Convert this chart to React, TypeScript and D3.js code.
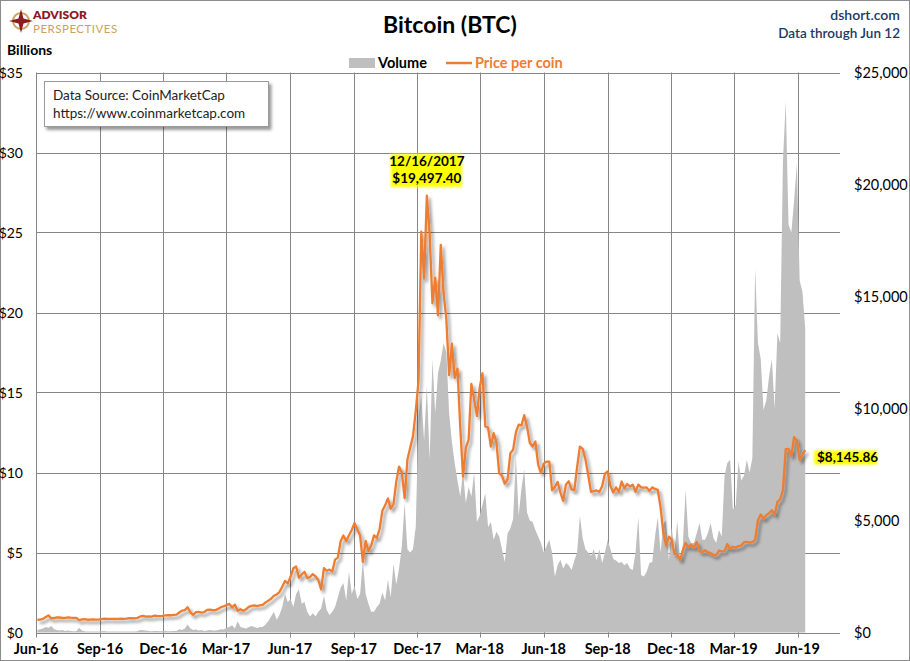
import React from 'react';
import * as d3 from 'd3';

const WIDTH = 910;
const HEIGHT = 661;
const FONT = "Lato, 'Open Sans', sans-serif";

// data points every 4 days, starting 2016-06-03, last point 2019-06-12
const seriesStart = new Date(2016, 5, 3);
const stepDays = 4;

const quarterLabels = ['Jun-16', 'Sep-16', 'Dec-16', 'Mar-17', 'Jun-17', 'Sep-17', 'Dec-17', 'Mar-18', 'Jun-18', 'Sep-18', 'Dec-18', 'Mar-19', 'Jun-19'];
const volumeTicks = [0, 5, 10, 15, 20, 25, 30, 35];
const priceTicks = [0, 5000, 10000, 15000, 20000, 25000];

// price per coin, USD
const priceValues = [
  // 2016
  569, 575, 606, 694, 764, 626, 647,
  676, 670, 650, 655, 679, 665, 655, 655,
  547, 587, 592, 570, 574, 586, 579, 575,
  599, 614, 606, 607, 609, 603, 606,
  613, 612, 617, 636, 639, 632, 652, 715,
  742, 712, 715, 705, 751, 739, 735, 742,
  765, 770, 769, 784, 800, 891, 975,
  // 2017
  998, 1130, 902, 790, 908, 923, 892, 914,
  1007, 1024, 994, 1000, 1055, 1125, 1173,
  1222, 1277, 1115, 1243, 970, 1040, 966, 1038,
  1143, 1190, 1207, 1180, 1217, 1231, 1345,
  1421, 1508, 1639, 1697, 1806, 2041, 2304, 2192,
  2488, 2865, 2945, 2444, 2590, 2710, 2427, 2480,
  2608, 2507, 2333, 1929, 2871, 2757, 2810,
  2718, 3252, 3342, 4073, 4331, 4086, 4340, 4579,
  4890, 4597, 4329, 3155, 4093, 3631, 3880, 4338,
  4225, 4610, 5432, 5678, 5990, 5526, 5726,
  6737, 7407, 7143, 6000, 7708, 8250, 8755, 9888,
  11234, 17900, 15800, 19497.4, 17777, 14699, 15838, 14157,
  // 2018
  17300, 15170, 13980, 11490, 12900, 11360, 11786,
  9170, 6955, 8240, 8600, 11100, 10400, 9660,
  10950, 11573, 9200, 9150, 8300, 8900, 8500, 7100,
  7000, 6640, 6840, 8000, 8160, 8930, 9280, 9240,
  9700, 9190, 8470, 8300, 8530, 7500, 7120,
  7540, 7630, 7630, 6350, 6500, 6720, 6250, 5880,
  6610, 6750, 6390, 6350, 7380, 8300, 8200, 7730,
  7030, 6280, 6310, 6340, 6270, 6530, 7090,
  7190, 6530, 6250, 6480, 6280, 6740, 6430, 6630,
  6520, 6600, 6280, 6600, 6480, 6470, 6480, 6320,
  6480, 6410, 6370, 5600, 4450, 3880, 4280,
  4140, 3510, 3490, 3240, 3670, 4000, 3810, 3920,
  // 2019
  3790, 4040, 3640, 3590, 3670, 3580, 3540, 3460,
  3450, 3660, 3620, 3630, 3950, 3740, 3820,
  3790, 3860, 3880, 4030, 4050, 4010, 4030,
  4140, 5010, 5270, 5070, 5240, 5330, 5460, 5260,
  5830, 5950, 6360, 8190, 8200, 7880, 8720, 8560,
  7700, 7950, 8145.86,
];

// traded volume, billions USD
const volumeValues = [
  // 2016
  0.15, 0.2, 0.25, 0.35, 0.3, 0.4, 0.2,
  0.15, 0.12, 0.15, 0.1, 0.12, 0.1, 0.08, 0.08,
  0.3, 0.12, 0.08, 0.07, 0.06, 0.07, 0.06, 0.06,
  0.08, 0.1, 0.07, 0.07, 0.07, 0.06, 0.07,
  0.07, 0.06, 0.06, 0.07, 0.06, 0.06, 0.08, 0.15,
  0.14, 0.12, 0.1, 0.08, 0.1, 0.09, 0.08, 0.1,
  0.09, 0.08, 0.08, 0.09, 0.1, 0.2, 0.15,
  // 2017
  0.25, 0.5, 0.25, 0.15, 0.18, 0.12, 0.15, 0.1,
  0.13, 0.16, 0.12, 0.12, 0.15, 0.2, 0.18,
  0.3, 0.35, 0.45, 0.25, 0.7, 0.35, 0.3, 0.25,
  0.35, 0.4, 0.35, 0.28, 0.35, 0.35, 0.5,
  0.7, 1.0, 1.3, 0.8, 1.1, 1.6, 2.4, 1.9,
  2.1, 1.6, 2.4, 2.7, 1.8, 1.9, 1.3, 1.0,
  1.2, 1.0, 1.3, 1.5, 2.3, 1.4, 1.1,
  1.3, 1.6, 2.2, 2.8, 3.1, 2.0, 3.8, 2.4,
  2.9, 2.1, 2.4, 4.5, 2.4, 1.8, 1.3, 1.3,
  1.6, 1.8, 2.5, 2.0, 3.3, 2.2, 4.3,
  3.0, 4.0, 5.4, 8.1, 5.2, 5.0, 5.2, 6.6,
  13.5, 14.8, 12.0, 15.4, 10.8, 17.1, 13.7, 16.2,
  // 2018
  17.0, 18.1, 17.5, 13.7, 11.9, 10.6, 9.5,
  8.5, 10.0, 8.1, 9.1, 8.5, 10.0, 6.9,
  7.3, 8.0, 8.7, 6.6, 6.9, 5.8, 6.3, 6.0,
  5.2, 4.4, 6.2, 6.5, 7.1, 11.0, 7.3, 9.0,
  10.2, 7.5, 7.0, 6.9, 6.4, 6.0, 5.6,
  5.0, 5.4, 5.8, 5.0, 3.5, 4.2, 4.55, 4.0,
  4.35, 4.2, 3.9, 4.5, 5.0, 7.3, 5.9, 5.2,
  5.0, 4.8, 5.2, 4.5, 5.2, 4.35, 5.0,
  5.8, 5.2, 4.6, 4.5, 4.35, 4.4, 4.2, 4.35,
  4.0, 3.9, 5.0, 7.2, 3.6, 3.5, 3.8, 4.35,
  4.4, 6.0, 7.2, 5.0, 6.8, 7.0, 4.5,
  6.6, 5.0, 7.0, 4.5, 5.5, 8.9, 6.0, 5.6,
  // 2019
  5.6, 6.2, 6.85, 5.8, 5.8, 6.2, 6.85, 5.9,
  5.6, 6.4, 6.0, 9.8, 10.6, 10.8, 7.7,
  7.9, 10.7, 9.5, 9.8, 10.8, 10.0, 10.9,
  22.8, 18.1, 17.1, 13.9, 14.5, 16.0, 17.1, 14.0,
  18.7, 18.1, 29.5, 33.2, 25.5, 25.0, 27.0, 29.3,
  22.0, 21.3, 19.0,
];

const peakLabel = ['12/16/2017', '$19,497.40'];
const lastLabel = '$8,145.86';

const parseQuarter = d3.timeParse('%b-%y');
const dates = priceValues.map((_, i) => d3.timeDay.offset(seriesStart, i * stepDays));

const plot = { left: 36, right: 840, top: 72.5, bottom: 632.5 };

const x = d3.scaleTime()
  .domain([new Date(2016, 5, 1), new Date(2019, 7, 1)])
  .range([plot.left, plot.right]);
const yVol = d3.scaleLinear().domain([0, 35]).range([plot.bottom, plot.top]);
const yPrice = d3.scaleLinear().domain([0, 25000]).range([plot.bottom, plot.top]);

const GRID = '#868686';
const ORANGE = '#ed7d31';
const NAVY = '#203864';

export default function App() {
  const volArea = d3.area<number>()
    .x((_, i) => x(dates[i]))
    .y0(yVol(0))
    .y1(d => yVol(d))(volumeValues);

  const priceLine = d3.line<number>()
    .x((_, i) => x(dates[i]))
    .y(d => yPrice(d))(priceValues);

  const peakIdx = d3.maxIndex(priceValues);
  const peakX = x(dates[peakIdx]);
  const lastIdx = priceValues.length - 1;
  const lastY = yPrice(priceValues[lastIdx]);

  return (
    <div style={{ position: 'absolute', left: 0, top: 0 }}>
      <svg width={WIDTH} height={HEIGHT} style={{ display: 'block', fontFamily: FONT }}>
        <defs>
          <filter id="shadow" filterUnits="userSpaceOnUse" x="0" y="0" width={WIDTH} height={HEIGHT}>
            <feDropShadow dx="2.5" dy="3" stdDeviation="1.6" floodColor="#000" floodOpacity="0.4" />
          </filter>
          <filter id="glow" x="-20%" y="-40%" width="140%" height="180%">
            <feGaussianBlur stdDeviation="1.6" />
          </filter>
        </defs>
        <rect x={0.5} y={0.5} width={WIDTH - 1} height={HEIGHT - 1} fill="#fff" stroke="#8c8c8c" />

        {/* logo */}
        <g>
          <circle cx={21} cy={21} r={8} fill="none" stroke="#c9a35b" strokeWidth={2} />
          <path d="M21 9 L23.5 18.5 L33 21 L23.5 23.5 L21 33 L18.5 23.5 L9 21 L18.5 18.5 Z" fill="#8b1c24" />
          <text x={33} y={19} fontSize={12} fontWeight={800} fill="#8b1c24">ADVISOR</text>
          <text x={33} y={33} fontSize={11.5} fill="#c9a35b" letterSpacing={0.5}>PERSPECTIVES</text>
        </g>

        <text x={450} y={33} textAnchor="middle" fontSize={23} fontWeight={700} fill="#000">Bitcoin (BTC)</text>
        <text x={900} y={20} textAnchor="end" fontSize={14} fontWeight={600} fill={NAVY}>dshort.com</text>
        <text x={900} y={38} textAnchor="end" fontSize={13.5} fontWeight={600} fill={NAVY}>Data through Jun 12</text>
        <text x={7} y={55} fontSize={14} fontWeight={700} fill="#000">Billions</text>

        {/* legend */}
        <rect x={349} y={58} width={26} height={10} fill="#bfbfbf" />
        <text x={378} y={68} fontSize={14.5} fontWeight={700} fill="#000">Volume</text>
        <line x1={446} x2={472} y1={63} y2={63} stroke={ORANGE} strokeWidth={2.5} />
        <text x={475} y={68} fontSize={14.5} fontWeight={700} fill={ORANGE}>Price per coin</text>

        {/* grid */}
        {volumeTicks.map(v => (
          <line key={'h' + v} x1={plot.left} x2={plot.right} y1={Math.round(yVol(v)) + 0.5} y2={Math.round(yVol(v)) + 0.5} stroke={GRID} />
        ))}
        {quarterLabels.map(q => {
          const xx = Math.round(x(parseQuarter(q) as Date)) + 0.5;
          return <line key={'v' + q} x1={xx} x2={xx} y1={plot.top} y2={plot.bottom + 5} stroke={GRID} />;
        })}

        <path d={volArea ?? ''} fill="#bfbfbf" />
        <path d={priceLine ?? ''} fill="none" stroke={ORANGE} strokeWidth={2.3} strokeLinejoin="round" filter="url(#shadow)" />

        {/* axes labels */}
        {volumeTicks.map(v => (
          <text key={'l' + v} x={23} y={yVol(v) + 5} textAnchor="end" fontSize={14} fill="#000">{'$' + v}</text>
        ))}
        {priceTicks.map(v => (
          <text key={'r' + v} x={854} y={yPrice(v) + 5} fontSize={14.5} fill="#000">{d3.format('$,')(v)}</text>
        ))}
        {quarterLabels.map(q => (
          <text key={'x' + q} x={x(parseQuarter(q) as Date)} y={654} textAnchor="middle" fontSize={14.5} fontWeight={700} fill="#000">{q}</text>
        ))}

        {/* source box */}
        <rect x={44.5} y={81.5} width={224} height={45} fill="#fff" stroke="#9a9a9a" filter="url(#shadow)" />
        <text x={53} y={100} fontSize={13.5} fill="#222">Data Source: CoinMarketCap</text>
        <text x={53} y={118} fontSize={13.5} fill="#222">https://www.coinmarketcap.com</text>

        {/* peak annotation */}
        <rect x={peakX - 36} y={154} width={71} height={33} fill="#ffff00" filter="url(#glow)" />
        <text x={peakX} y={166} textAnchor="middle" fontSize={13.5} fontWeight={700} fill="#000">{peakLabel[0]}</text>
        <text x={peakX} y={183} textAnchor="middle" fontSize={13.5} fontWeight={700} fill="#000">{peakLabel[1]}</text>

        {/* last value */}
        <rect x={814} y={lastY + 0.5} width={63} height={14} fill="#ffff00" filter="url(#glow)" />
        <text x={817} y={lastY + 12} fontSize={13.5} fontWeight={700} fill="#000">{lastLabel}</text>
      </svg>
    </div>
  );
}
